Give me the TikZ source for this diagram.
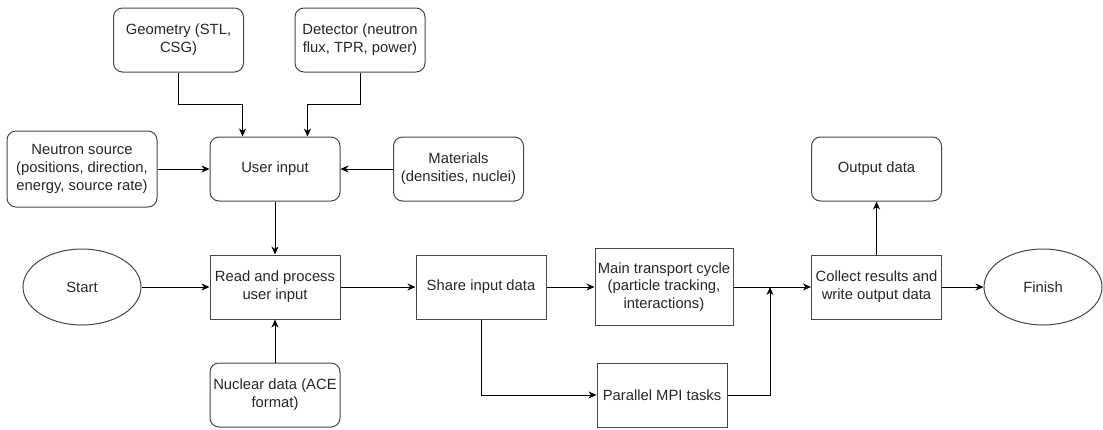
\documentclass[tikz,border=0pt]{standalone}
\usepackage{fontspec}
\setmainfont{Liberation Sans}
\usetikzlibrary{arrows.meta,shapes.geometric}
\begin{document}
\begin{tikzpicture}[x=1pt,y=-1pt,
  box/.style={draw=black!72, line width=1pt, minimum width=130pt, minimum height=64pt,
    inner sep=0pt, align=center, font=\fontsize{14.8}{17.8}\selectfont, text=black!85},
  rbox/.style={box, rounded corners=9pt},
  ell/.style={box, ellipse, minimum width=118pt, minimum height=76pt},
  arr/.style={-{Stealth[length=8pt,width=7pt,inset=2.5pt]}, line width=1pt, draw=black}
]
\useasboundingbox (0,0) rectangle (1103,429);

\node[rbox] (geo) at (178.5,40) {Geometry (STL,\\CSG)};
\node[rbox] (det) at (360,40) {Detector (neutron\\flux, TPR, power)};
\node[rbox, minimum width=150pt, minimum height=76pt] (src) at (82,169) {Neutron source\\(positions, direction,\\energy, source rate)};
\node[rbox] (user) at (275,169) {User input};
\node[rbox] (mat) at (458.5,169) {Materials\\(densities, nuclei)};
\node[ell] (start) at (82,287) {Start};
\node[box] (read) at (275,287) {Read and process\\user input};
\node[rbox] (nuc) at (275,395) {Nuclear data (ACE\\format)};
\node[box] (share) at (481,287) {Share input data};
\node[box, minimum width=138pt, minimum height=77pt] (main) at (664,287) {Main transport cycle\\(particle tracking,\\interactions)};
\node[box] (par) at (662,395) {Parallel MPI tasks};
\node[box] (coll) at (876.5,287) {Collect results and\\write output data};
\node[rbox] (out) at (876.5,169) {Output data};
\node[ell] (fin) at (1043,287) {Finish};

\coordinate (g1) at (178.5,104);
\coordinate (d1) at (360,104);
\coordinate (m1) at (770,287);

\draw[arr] (geo.south) -- (g1) -| ([xshift=-32.5pt]user.north);
\draw[arr] (det.south) -- (d1) -| ([xshift=32.5pt]user.north);
\draw[arr] (src.east) -- (user.west);
\draw[arr] (mat.west) -- (user.east);
\draw[arr] (user.south) -- (read.north);
\draw[arr] (start.east) -- (read.west);
\draw[arr] (nuc.north) -- (read.south);
\draw[arr] (read.east) -- (share.west);
\draw[arr] (share.east) -- (main.west);
\draw[arr] (share.south) |- (par.west);
\draw[arr] (main.east) -- (coll.west);
\draw[arr] (par.east) -| (m1);
\draw[arr] (coll.east) -- (fin.west);
\draw[arr] (coll.north) -- (out.south);
\end{tikzpicture}
\end{document}
